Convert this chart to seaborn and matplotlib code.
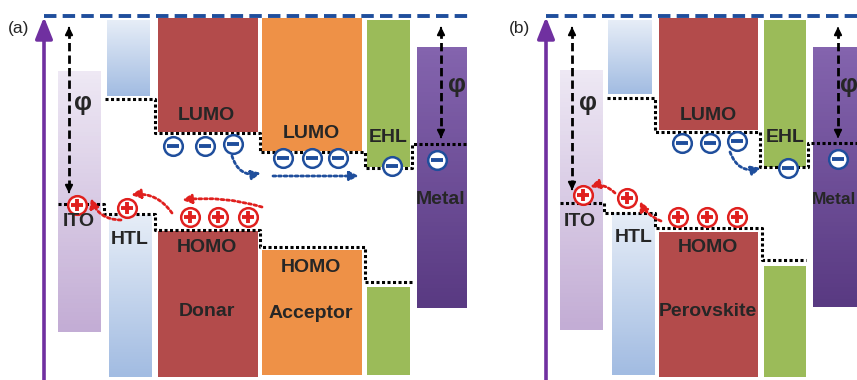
import numpy as np
import pandas as pd
import matplotlib.pyplot as plt
import seaborn as sns
from matplotlib.colors import LinearSegmentedColormap

# ---------------- data (drawing units: x left->right, y = depth below vacuum) ----------------
# panel (a): organic solar cell
a_box_kind = ["ito", "htl", "htl", "donor", "donor", "acceptor", "acceptor", "ehl", "ehl", "metal"]
a_box_x0 = [58, 107, 109, 158, 158, 262, 262, 367, 367, 417]
a_box_x1 = [101, 150, 152, 258, 258, 362, 362, 410, 410, 467]
a_box_top = [71, 20, 215, 18, 231, 18, 250, 20, 287, 47]
a_box_bot = [332, 96, 377, 132, 377, 151, 375, 167, 375, 308]

a_lumo_x = [105, 155, 260, 365, 412, 466]
a_lumo_y = [99, 133, 152, 168, 144, 144]
a_homo_x = [58, 104, 155, 260, 365, 412]
a_homo_y = [204, 214, 230, 247, 282, 282]

a_elec_x = [173, 205, 233, 283, 312, 338, 392, 437]
a_elec_y = [146, 146, 144, 158, 158, 158, 166, 160]
a_hole_x = [77, 127, 190, 218, 248]
a_hole_y = [205, 208, 217, 217, 217]

# panel (b): perovskite solar cell
b_box_kind = ["ito", "htl", "htl", "donor", "donor", "ehl", "ehl", "metal"]
b_box_x0 = [560, 608, 612, 659, 659, 764, 764, 813]
b_box_x1 = [603, 652, 655, 758, 758, 806, 806, 880]
b_box_top = [70, 20, 213, 18, 232, 20, 266, 47]
b_box_bot = [330, 94, 375, 130, 377, 167, 377, 307]

b_lumo_x = [607, 655, 760, 808, 857]
b_lumo_y = [98, 132, 167, 143, 143]
b_homo_x = [560, 604, 655, 762, 806]
b_homo_y = [203, 213, 228, 260, 260]

b_elec_x = [682, 710, 737, 788, 838]
b_elec_y = [143, 143, 141, 168, 159]
b_hole_x = [583, 627, 678, 707, 737]
b_hole_y = [195, 198, 217, 217, 217]

# text labels: (x, y, text)
a_labels = [(79, 222, "ITO"), (130, 239, "HTL"),
            (206, 116, "LUMO"), (207, 248, "HOMO"), (207, 311, "Donar"),
            (311, 134, "LUMO"), (311, 268, "HOMO"), (311, 314, "Acceptor"),
            (388, 138, "EHL"), (441, 200, "Metal")]
b_labels = [(580, 222, "ITO"), (634, 238, "HTL"),
            (708, 116, "LUMO"), (708, 247, "HOMO"), (708, 311, "Perovskite"),
            (785, 138, "EHL")]
phi_labels = [(83, 103), (457, 85), (588, 103), (849, 85)]

# ---------------- styles ----------------
FILL = {"donor": "#b34b4b", "acceptor": "#ee9147", "ehl": "#9bbb59"}
GRAD = {"ito": ("#eee8f4", "#c3add5"), "htl": ("#e6edf7", "#a2bce2"), "metal": ("#8464ae", "#593a82")}
BLUE = "#1f4e9c"
RED = "#e0201e"
PURPLE = "#7030a0"

sns.set_style("white")
plt.rcParams['font.family'] = ['Liberation Sans', 'DejaVu Sans']

fig = plt.figure(figsize=(8.57, 3.8), dpi=100)
ax = fig.add_axes([0, 0, 1, 1])
ax.set_xlim(0, 857)
ax.set_ylim(380, 0)
ax.axis("off")


def draw_boxes(kinds, x0s, x1s, tops, bots):
    for k, x0, x1, t, b in zip(kinds, x0s, x1s, tops, bots):
        if k in FILL:
            ax.bar(x0, b - t, bottom=t, width=x1 - x0, align="edge", color=FILL[k], lw=0, zorder=1)
        else:
            cmap = LinearSegmentedColormap.from_list(k, GRAD[k])
            grad = np.linspace(0, 1, 64).reshape(-1, 1)
            ax.imshow(grad, cmap=cmap, aspect="auto", origin="upper",
                      extent=[x0, x1, b, t], zorder=1)


def draw_levels(xs, ys):
    ax.step(xs, ys, where="post", color="black", lw=2.2, ls=(0, (1, 0.8)), zorder=2)


def draw_charges(xs, ys, color, sign):
    df = pd.DataFrame({"x": xs, "y": ys})
    sns.scatterplot(data=df, x="x", y="y", ax=ax, s=180, color="white",
                    edgecolor=color, linewidth=1.8, zorder=4, legend=False)
    mk = "+" if sign > 0 else "_"
    ax.scatter(xs, ys, marker=mk, s=80, color=color, linewidths=2.8, zorder=5)


def phi_arrow(x, y0, y1):
    ax.plot([x, x], [y0 + 6, y1 - 6], color="black", lw=2, ls=(0, (3, 1.5)), zorder=6)
    for tip, tail in [(y0, y0 + 7), (y1, y1 - 7)]:
        ax.annotate("", xy=(x, tip), xytext=(x, tail),
                    arrowprops=dict(arrowstyle="-|>", color="black", lw=1.5, mutation_scale=11), zorder=6)


def flow(p0, p1, color, rad):
    ax.annotate("", xy=p1, xytext=p0,
                arrowprops=dict(arrowstyle="-|>,head_length=0.45,head_width=0.22", color=color,
                                lw=2, ls=(0, (1, 1)), mutation_scale=12,
                                connectionstyle=f"arc3,rad={rad}",
                                shrinkA=0, shrinkB=0), zorder=6)


draw_boxes(a_box_kind, a_box_x0, a_box_x1, a_box_top, a_box_bot)
draw_boxes(b_box_kind, b_box_x0, b_box_x1, b_box_top, b_box_bot)

for xs, ys in [(a_lumo_x, a_lumo_y), (a_homo_x, a_homo_y), (b_lumo_x, b_lumo_y), (b_homo_x, b_homo_y)]:
    draw_levels(xs, ys)

draw_charges(a_elec_x, a_elec_y, BLUE, -1)
draw_charges(b_elec_x, b_elec_y, BLUE, -1)
draw_charges(a_hole_x, a_hole_y, RED, 1)
draw_charges(b_hole_x, b_hole_y, RED, 1)

for x, y, s in a_labels + b_labels:
    ax.text(x, y, s, ha="center", va="center", fontsize=14, fontweight="bold", zorder=7)
ax.text(856, 200, "Metal", ha="right", va="center", fontsize=12.5, fontweight="bold", zorder=7)
for x, y in phi_labels:
    ax.text(x, y, "φ", ha="center", va="center", fontsize=18, fontweight="bold", zorder=7)
ax.text(19, 28, "(a)", ha="center", va="center", fontsize=12.5, zorder=7)
ax.text(520, 28, "(b)", ha="center", va="center", fontsize=12.5, zorder=7)

# vacuum level and energy axes
ax.plot([44, 468], [16, 16], color=BLUE, lw=2.8, ls=(0, (3.2, 1.6)), zorder=3)
ax.plot([546, 857], [16, 16], color=BLUE, lw=2.8, ls=(0, (3.2, 1.6)), zorder=3)
for x in [44, 546]:
    ax.annotate("", xy=(x, 17), xytext=(x, 382),
                arrowprops=dict(arrowstyle="-|>,head_length=1.0,head_width=0.4", color=PURPLE,
                                lw=2.6, mutation_scale=13, shrinkA=0, shrinkB=0), zorder=6)

# work function arrows
phi_arrow(69, 24, 196)
phi_arrow(441, 24, 141)
phi_arrow(572, 24, 193)
phi_arrow(838, 24, 141)

# charge transport arrows
flow((232, 156), (261, 173), BLUE, 0.45)
flow((273, 176), (359, 176), BLUE, 0)
flow((730, 152), (761, 168), BLUE, 0.45)
flow((262, 207), (182, 200), RED, 0.1)
flow((172, 213), (131, 195), RED, 0.3)
flow((121, 220), (91, 198), RED, -0.35)
flow((661, 221), (640, 201), RED, -0.2)
flow((615, 193), (590, 187), RED, 0.3)

fig.savefig("out.png", dpi=100)
